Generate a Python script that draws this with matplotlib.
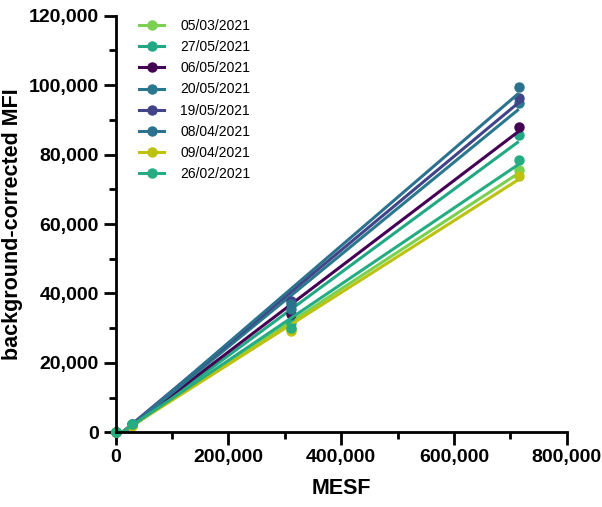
import matplotlib
matplotlib.use("Agg")
import matplotlib.pyplot as plt
from matplotlib.ticker import MultipleLocator, FuncFormatter
import numpy as np

plt.rcParams['font.family'] = ['Liberation Sans', 'DejaVu Sans']

# MESF values of the bead populations
mesf = [0, 28800, 312000, 715000]

labels = ['05/03/2021', '27/05/2021', '06/05/2021', '20/05/2021',
          '19/05/2021', '08/04/2021', '09/04/2021', '26/02/2021']
colors = ['#7ad151', '#22a884', '#440154', '#2a788e',
          '#414487', '#2c728e', '#bcc20e', '#25ac82']

# background-corrected MFI per date
mfi_0503 = [0, 2100, 29800, 75600]
mfi_2705 = [0, 2000, 31500, 85500]
mfi_0605 = [0, 2100, 34000, 88000]
mfi_2005 = [0, 2200, 35500, 94800]
mfi_1905 = [0, 2300, 37800, 96200]
mfi_0804 = [0, 2300, 37000, 99600]
mfi_0904 = [0, 1800, 29200, 73700]
mfi_2602 = [0, 2400, 30000, 78500]

series = [mfi_0503, mfi_2705, mfi_0605, mfi_2005,
          mfi_1905, mfi_0804, mfi_0904, mfi_2602]

fig = plt.figure(figsize=(6.02, 5.07), dpi=100)
ax = fig.add_axes([0.1919, 0.1473, 0.7495, 0.8217])

x = np.array(mesf, dtype=float)
for lab, col, y in zip(labels, colors, series):
    y = np.array(y, dtype=float)
    # linear fit line
    k, b = np.polyfit(x, y, 1)
    xx = np.array([x.min(), x.max()])
    ax.plot(x, y, 'o', color=col, ms=6.5, clip_on=False, zorder=2)
    ax.plot(xx, k * xx + b, color=col, lw=2.2, solid_capstyle='butt', zorder=2)
    # legend handle
    ax.plot([], [], '-o', color=col, lw=2.2, ms=6.5, label=lab)

ax.set_xlim(0, 800000)
ax.set_ylim(0, 120000)
ax.xaxis.set_major_locator(MultipleLocator(200000))
ax.xaxis.set_minor_locator(MultipleLocator(100000))
ax.yaxis.set_major_locator(MultipleLocator(20000))
ax.yaxis.set_minor_locator(MultipleLocator(10000))
fmt = FuncFormatter(lambda v, p: '{:,.0f}'.format(v))
ax.xaxis.set_major_formatter(fmt)
ax.yaxis.set_major_formatter(fmt)

for s in ['top', 'right']:
    ax.spines[s].set_visible(False)
for s in ['left', 'bottom']:
    ax.spines[s].set_linewidth(2)

ax.tick_params(which='major', length=9, width=2, labelsize=14, pad=3)
ax.tick_params(which='minor', length=5, width=2)
for t in ax.get_xticklabels() + ax.get_yticklabels():
    t.set_fontweight('bold')

ax.set_xlabel('MESF', fontsize=15.5, fontweight='bold', labelpad=9)
ax.set_ylabel('background-corrected MFI', fontsize=15.5, fontweight='bold')
ax.yaxis.set_label_coords(-0.205, 0.5)

ax.legend(loc='upper left', bbox_to_anchor=(0.04, 1.006), frameon=False,
          fontsize=10, handlelength=1.8, handletextpad=1.15, labelspacing=0.52,
          borderaxespad=0)

fig.savefig('out.png', dpi=100)
